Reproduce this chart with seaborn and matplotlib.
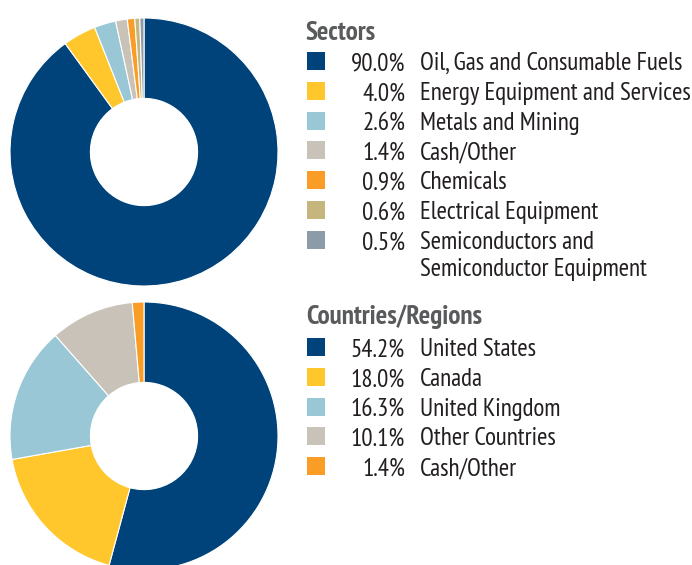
import matplotlib
matplotlib.use("Agg")
import matplotlib.pyplot as plt
import seaborn as sns
from matplotlib.patches import Rectangle

# data
sector_names = ["Oil, Gas and Consumable Fuels", "Energy Equipment and Services",
                "Metals and Mining", "Cash/Other", "Chemicals", "Electrical Equipment",
                "Semiconductors and\nSemiconductor Equipment"]
sector_values = [90.0, 4.0, 2.6, 1.4, 0.9, 0.6, 0.5]

country_names = ["United States", "Canada", "United Kingdom", "Other Countries", "Cash/Other"]
country_values = [54.2, 18.0, 16.3, 10.1, 1.4]

sector_colors = ["#00427A", "#FFC72C", "#99C7D6", "#C8C2B8", "#F99D26", "#C4B67D", "#8C9BA8"]
country_colors = ["#00427A", "#FFC72C", "#99C7D6", "#C8C2B8", "#F99D26"]

sns.set_style("white")
plt.rcParams['font.family'] = ['PT Sans Narrow', 'DejaVu Sans']

W, H = 692, 565
fig = plt.figure(figsize=(W / 100, H / 100), dpi=100)


def donut(cx, cy, r, values, colors):
    # cx, cy in pixels from top-left
    ax = fig.add_axes([(cx - r) / W, (H - cy - r) / H, 2 * r / W, 2 * r / H])
    ax.pie(values, colors=colors, startangle=90, counterclock=False, radius=1,
           wedgeprops=dict(width=0.6, edgecolor="white", linewidth=0.8))
    ax.set_xlim(-1, 1)
    ax.set_ylim(-1, 1)
    ax.axis("off")


donut(144, 152, 134, sector_values, sector_colors)
donut(144, 436, 134, country_values, country_colors)

text_col = "#231F20"
head_col = "#595A5C"


def legend(title, title_y, first_y, names, values, colors):
    fig.text(306 / W, 1 - title_y / H, title, fontsize=19.5, fontweight="bold",
             color=head_col, va="center", ha="left")
    for i, (n, v, c) in enumerate(zip(names, values, colors)):
        y = first_y + i * 29.8
        fig.patches.append(Rectangle((307 / W, 1 - (y + 9) / H), 18 / W, 18 / H,
                                     transform=fig.transFigure, facecolor=c,
                                     edgecolor="none"))
        fig.text(405 / W, 1 - (y + 3) / H, f"{v:.1f}%", fontsize=18, color=text_col,
                 va="center", ha="right")
        fig.text(420 / W, 1 - (y - 9) / H, n, fontsize=18, color=text_col,
                 va="top", ha="left", linespacing=1.25)


legend("Sectors", 33, 61, sector_names, sector_values, sector_colors)
legend("Countries/Regions", 317, 347, country_names, country_values, country_colors)

fig.savefig("out.png", dpi=100)
